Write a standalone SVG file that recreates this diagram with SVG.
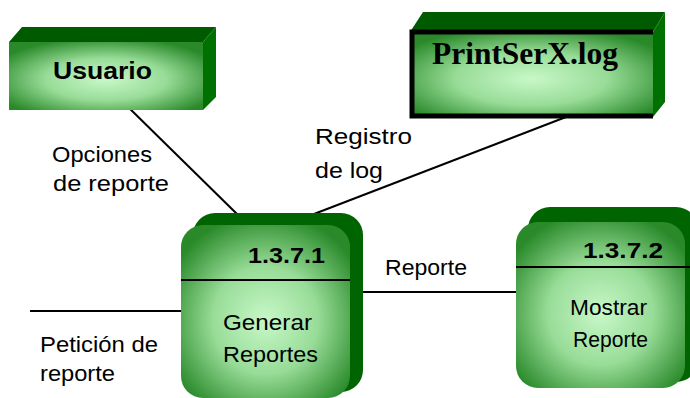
<svg xmlns="http://www.w3.org/2000/svg" width="690" height="398" viewBox="0 0 690 398">
<defs>
<radialGradient id="g" cx="50%" cy="55%" r="62%">
<stop offset="0" stop-color="#c8f8c8"/>
<stop offset="0.5" stop-color="#98dc98"/>
<stop offset="1" stop-color="#2a8a2a"/>
</radialGradient>
<style>
.lab{font-family:"Liberation Sans",Arial,sans-serif;font-size:22px;fill:#000}
.bold{font-family:"Liberation Sans",Arial,sans-serif;font-weight:bold;fill:#000}
.top{fill:#005a00}
.side{fill:#007000}
.back{fill:#006400}
.con{stroke:#000;stroke-width:2;fill:none}
</style>
</defs>
<rect width="690" height="398" fill="#fff"/>
<g id="connectors">
<line class="con" x1="123" y1="102" x2="237" y2="214"/>
<line class="con" x1="566" y1="117" x2="314" y2="214"/>
<line class="con" x1="360" y1="292" x2="518" y2="292"/>
<line class="con" x1="30" y1="311" x2="184" y2="311"/>
<text class="lab" x="52" y="162" textLength="100" lengthAdjust="spacingAndGlyphs">Opciones</text>
<text class="lab" x="53" y="191" textLength="116" lengthAdjust="spacingAndGlyphs">de reporte</text>
<text class="lab" x="315" y="144" textLength="97" lengthAdjust="spacingAndGlyphs">Registro</text>
<text class="lab" x="315" y="178" textLength="68" lengthAdjust="spacingAndGlyphs">de log</text>
<text class="lab" x="385" y="275" textLength="82" lengthAdjust="spacingAndGlyphs">Reporte</text>
<text class="lab" x="40" y="352" textLength="118" lengthAdjust="spacingAndGlyphs">Petición de</text>
<text class="lab" x="40" y="381" textLength="75" lengthAdjust="spacingAndGlyphs">reporte</text>
</g>
<g id="usuario">
<polygon class="top" points="9,42 22,27 216,27 203,42"/>
<polygon class="side" points="203,42 216,27 216,97 203,110"/>
<rect x="9" y="42" width="194" height="68" fill="url(#g)"/>
<text class="bold" x="53" y="79" font-size="23" textLength="99" lengthAdjust="spacingAndGlyphs">Usuario</text>
</g>
<g id="printserx">
<polygon class="top" points="410,32 423,12 665,12 653,32"/>
<polygon class="side" points="653,32 665,12 665,102 653,117"/>
<rect x="410" y="32" width="243" height="85" fill="url(#g)"/>
<polyline points="653,32 412,32 412,116 653,116" fill="none" stroke="#000" stroke-width="5"/>
<text x="432" y="64" font-family="'Liberation Serif','Times New Roman',serif" font-weight="bold" font-size="31" textLength="186" lengthAdjust="spacingAndGlyphs">PrintSerX.log</text>
</g>
<g id="p1371">
<rect class="back" x="193" y="213" width="170" height="179" rx="22"/>
<rect x="181" y="225" width="169" height="173" rx="22" fill="url(#g)"/>
<line x1="181" y1="280" x2="350" y2="280" stroke="#000" stroke-width="2"/>
<text class="bold" x="248" y="263" font-size="22" textLength="77" lengthAdjust="spacingAndGlyphs">1.3.7.1</text>
<text class="lab" x="223" y="330" textLength="89" lengthAdjust="spacingAndGlyphs">Generar</text>
<text class="lab" x="223" y="362" textLength="95" lengthAdjust="spacingAndGlyphs">Reportes</text>
</g>
<g id="p1372">
<rect class="back" x="528" y="207" width="170" height="175" rx="22"/>
<rect x="516" y="222" width="169" height="166" rx="22" fill="url(#g)"/>
<line x1="516" y1="267" x2="690" y2="267" stroke="#000" stroke-width="2"/>
<text class="bold" x="583" y="258" font-size="22" textLength="80" lengthAdjust="spacingAndGlyphs">1.3.7.2</text>
<text class="lab" x="570" y="315" textLength="77" lengthAdjust="spacingAndGlyphs">Mostrar</text>
<text class="lab" x="573" y="347" textLength="75" lengthAdjust="spacingAndGlyphs">Reporte</text>
</g>
</svg>
